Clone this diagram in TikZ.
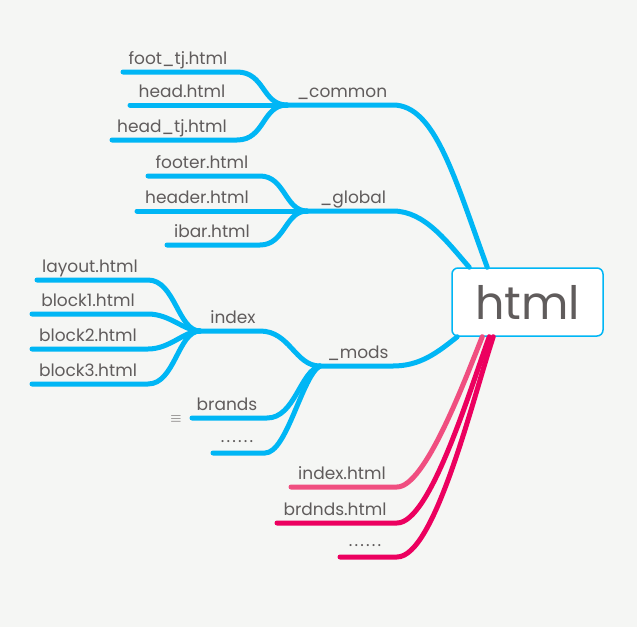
\documentclass[tikz,border=0pt]{standalone}
\usepackage{fontspec}
\setmainfont{Poppins}
\definecolor{mblue}{RGB}{0,182,245}
\definecolor{mpink}{RGB}{236,0,95}
\definecolor{lpink}{RGB}{240,78,128}
\definecolor{tgray}{RGB}{96,92,92}
\definecolor{bgray}{RGB}{245,246,244}
\newcommand{\scale}{1}

\begin{document}
\begin{tikzpicture}[scale = \scale, x = 1pt, y = -1pt,
  lbl/.style = {anchor = base, inner sep = 0pt, text = tgray, font = \fontsize{17}{20}\selectfont},
  dots/.style = {lbl, font = \fontsize{17}{20}\selectfont\addfontfeatures{LetterSpace = 13}},
  blue/.style = {draw = mblue, line width = 5pt, line cap = round},
  pink/.style = {draw = mpink, line width = 5pt, line cap = round}]

\fill [bgray] (0,0) rectangle (637,627);
\useasboundingbox (0,0) rectangle (637,627);

\node [draw = mblue, line width = 1.5pt, fill = white, rounded corners = 6pt, minimum width = 151pt, minimum height = 68pt, text = tgray, font = \fontsize{46}{50}\selectfont] (v0) at (527.5,302) {html};

\coordinate (j1) at (287,105);
\coordinate (j2) at (307,211);
\coordinate (j3) at (200,331);
\coordinate (j4) at (320,366);

\coordinate (s1) at (123,72);
\coordinate (s2) at (130,105);
\coordinate (s3) at (112,140);
\coordinate (s4) at (148,176);
\coordinate (s5) at (137,211);
\coordinate (s6) at (167,245);
\coordinate (s7) at (37,280);
\coordinate (s8) at (32,314);
\coordinate (s9) at (32,349);
\coordinate (s10) at (32,384);
\coordinate (s11) at (192,418);
\coordinate (s12) at (213,453);
\coordinate (s13) at (291,487);
\coordinate (s14) at (277,523);
\coordinate (s15) at (340,557);

\node [lbl] (v1) at (178,64) {foot\_tj.html};
\node [lbl] (v2) at (182,97) {head.html};
\node [lbl] (v3) at (172,132) {head\_tj.html};
\node [lbl] (v4) at (342,97) {\_common};
\node [lbl] (v5) at (202,168) {footer.html};
\node [lbl] (v6) at (197,203) {header.html};
\node [lbl] (v7) at (212,237) {ibar.html};
\node [lbl] (v8) at (353,203) {\_global};
\node [lbl] (v9) at (90,272) {layout.html};
\node [lbl] (v10) at (88,306) {block1.html};
\node [lbl] (v11) at (88,341) {block2.html};
\node [lbl] (v12) at (88,376) {block3.html};
\node [lbl] (v13) at (233,323) {index};
\node [lbl] (v14) at (358,358) {\_mods};
\node [lbl] (v15) at (227,410) {brands};
\node [dots] (v16) at (237,442) {......};
\node [lbl] (v17) at (342,479) {index.html};
\node [lbl] (v18) at (335,515) {brdnds.html};
\node [dots] (v19) at (365,546) {......};
\node [text = tgray, inner sep = 0pt, font = \fontsize{15}{15}\selectfont] (v20) at (176,419) {$\equiv$};

\draw [blue] (s1) -- ++(114,0) .. controls +(28,0) and +(-25,0) .. (j1);
\draw [blue] (s2) -- (j1);
\draw [blue] (s3) -- ++(125,0) .. controls +(28,0) and +(-25,0) .. (j1);
\draw [blue] (j1) -- ++(106,0) .. controls +(42,0) and +(-33,-90) .. ([xshift = 36pt]v0.north west);

\draw [blue] (s4) -- ++(112,0) .. controls +(25,0) and +(-22,0) .. (j2);
\draw [blue] (s5) -- (j2);
\draw [blue] (s6) -- ++(93,0) .. controls +(25,0) and +(-22,0) .. (j2);
\draw [blue] (j2) -- ++(86,0) .. controls +(32,0) and +(-22,-25) .. ([xshift = 18pt]v0.north west);

\draw [blue] (s7) -- ++(111,0) .. controls +(27,0) and +(-22,0) .. (j3);
\draw [blue] (s8) -- ++(116,0) .. controls +(22,0) and +(-16,0) .. (j3);
\draw [blue] (s9) -- ++(116,0) .. controls +(22,0) and +(-16,0) .. (j3);
\draw [blue] (s10) -- ++(116,0) .. controls +(27,0) and +(-22,0) .. (j3);
\draw [blue] (j3) -- ++(60,0) .. controls +(30,0) and +(-25,0) .. (j4);

\draw [blue] (s11) -- ++(75,0) .. controls +(28,0) and +(-20,5) .. (j4);
\draw [blue] (s12) -- ++(52,0) .. controls +(22,0) and +(-18,10) .. (j4);
\draw [blue] (j4) -- ++(73,0) .. controls +(27,0) and +(-20,16) .. ([xshift = 6pt]v0.south west);

\draw [pink, draw = lpink] (s13) -- ++(106,0) .. controls +(28,0) and +(-18,45) .. ([xshift = 31pt]v0.south west);
\draw [pink] (s14) -- ++(120,0) .. controls +(33,0) and +(-20,55) .. ([xshift = 38pt]v0.south west);
\draw [pink] (s15) -- ++(57,0) .. controls +(38,0) and +(-20,60) .. ([xshift = 42pt]v0.south west);
\end{tikzpicture}
\end{document}
